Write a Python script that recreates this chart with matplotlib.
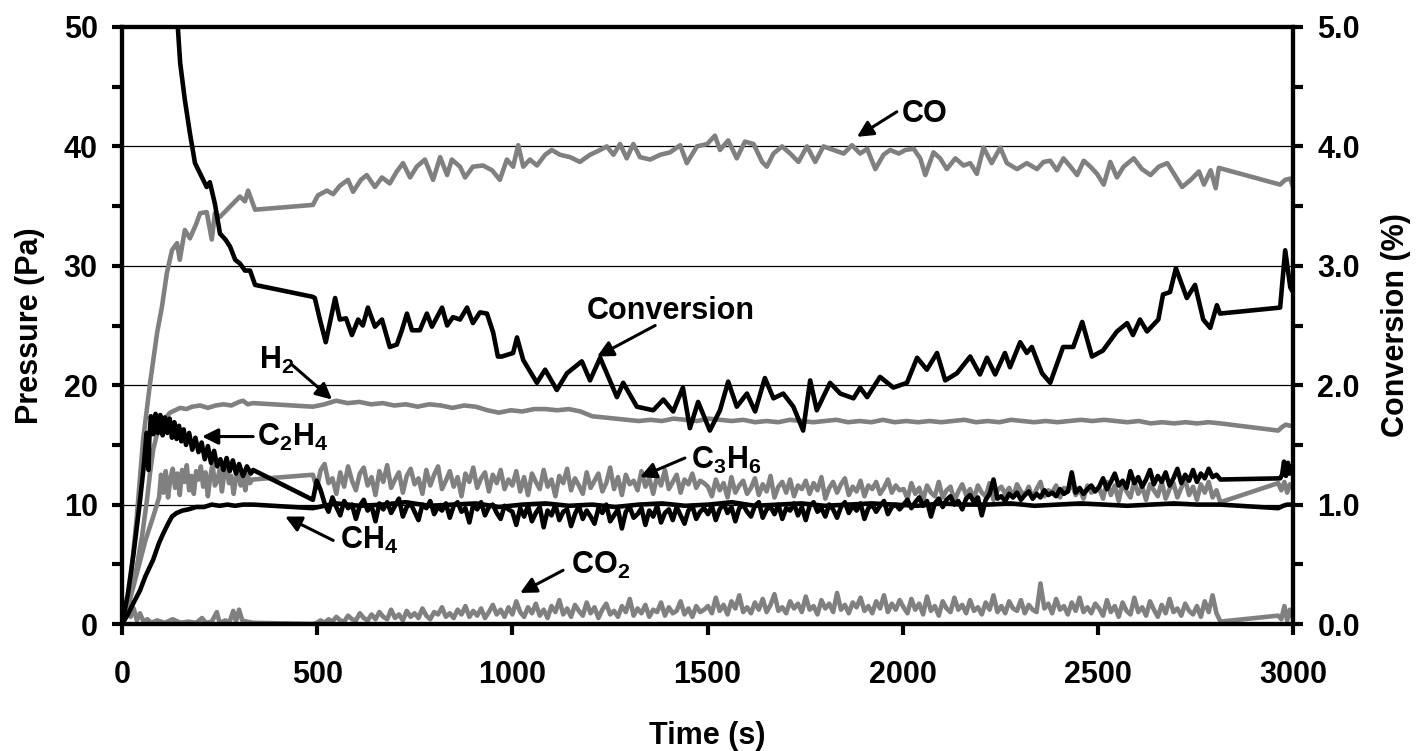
import numpy as np
import matplotlib
matplotlib.use('Agg')
import matplotlib.pyplot as plt
from matplotlib.ticker import MultipleLocator, FormatStrFormatter

plt.rcParams['font.family'] = ['Liberation Sans', 'DejaVu Sans']
plt.rcParams['font.weight'] = 'bold'
plt.rcParams['mathtext.fontset'] = 'custom'
plt.rcParams['mathtext.rm'] = 'Liberation Sans:bold'
plt.rcParams['mathtext.it'] = 'Liberation Sans:bold'
plt.rcParams['mathtext.bf'] = 'Liberation Sans:bold'

# ---------------- data ----------------
# middle measurement window shared by the sampled series (evenly spaced samples)
MID_START, MID_END = 489, 2814

# CO (Pa)
co_t = [0, 20, 38, 54, 72, 90, 102, 115, 128, 141, 148, 161, 174, 190, 200, 217, 230, 238, 251, 269, 284, 302, 315, 323, 341,
        489, 502, 525, 541, 558, 579, 592, 612, 627, 648, 666, 686, 704, 720, 738, 755, 776, 797, 815, 833, 845, 866, 879, 899,
        925, 948, 968, 986, 1002, 1015, 1028, 1045, 1063, 1084, 1101, 1122, 1148, 1173, 1199, 1225, 1242, 1259, 1276, 1293,
        1310, 1327, 1353, 1379, 1404, 1430, 1447, 1473, 1499, 1519, 1532, 1553, 1575, 1596, 1618, 1640, 1652, 1669, 1691,
        1712, 1733, 1755, 1776, 1797, 1823, 1849, 1870, 1891, 1909, 1930, 1951, 1968, 1990, 2007, 2028, 2045, 2058, 2079,
        2096, 2113, 2135, 2156, 2173, 2190, 2207, 2228, 2250, 2267, 2293, 2318, 2344, 2361, 2378, 2395, 2412, 2430, 2447,
        2464, 2481, 2498, 2515, 2532, 2549, 2566, 2592, 2613, 2635, 2656, 2678, 2695, 2716, 2738, 2759, 2772, 2789, 2802,
        2810, 2967, 2980, 2993, 3000]
co_v = [0, 3.0, 9.0, 15.4, 20.2, 24.4, 26.5, 29.4, 31.3, 31.9, 30.5, 33.0, 32.3, 33.5, 34.4, 34.5, 32.2, 34.4, 34.1, 34.7, 35.2, 35.8, 35.4, 36.3, 34.7,
        35.1, 35.9, 36.3, 36.0, 36.7, 37.2, 36.2, 37.2, 37.6, 36.6, 37.4, 36.9, 37.9, 38.6, 37.4, 38.3, 38.9, 37.2, 39.1, 37.6, 38.9, 38.3, 37.4, 38.3,
        38.4, 38.0, 37.2, 38.9, 38.3, 40.1, 38.3, 38.9, 38.4, 39.3, 39.7, 39.3, 39.1, 38.7, 39.3, 39.7, 40.0, 39.3, 40.2, 39.0,
        40.2, 39.1, 38.9, 39.3, 39.5, 40.1, 38.6, 40.0, 40.2, 40.9, 39.7, 40.5, 39.0, 40.4, 40.2, 38.7, 38.3, 39.4, 40.0,
        39.4, 38.7, 40.0, 38.7, 40.0, 39.7, 39.4, 40.1, 39.4, 39.8, 38.1, 39.3, 39.7, 39.4, 39.7, 39.8, 39.0, 37.6, 39.5,
        39.0, 38.1, 39.0, 38.4, 38.6, 37.7, 39.9, 38.6, 39.9, 38.6, 38.1, 38.6, 38.1, 38.7, 38.8, 38.0, 39.0, 38.3, 37.6,
        38.8, 38.3, 37.7, 36.8, 38.7, 37.4, 38.3, 39.0, 38.1, 37.6, 38.3, 38.6, 37.7, 36.6, 37.2, 37.9, 36.8, 38.0, 36.5,
        38.2, 36.8, 37.2, 37.3, 36.6]

# H2 (Pa)
h2_start_t = [0, 20, 38, 52, 64, 72, 80, 88, 97, 110, 123, 136, 149, 165, 180, 200, 220, 240, 260, 280, 300, 310, 322, 336]
h2_start_v = [0, 2.2, 4.8, 7.5, 10.4, 12.7, 14.6, 15.7, 16.5, 17.2, 17.7, 17.9, 18.1, 18.0, 18.2, 18.3, 18.1, 18.3, 18.4, 18.3, 18.6, 18.7, 18.4, 18.5]
h2_mid_v = [18.2, 18.4, 18.7, 18.5, 18.6, 18.4, 18.5, 18.3, 18.4, 18.2, 18.4, 18.3, 18.1, 18.3, 18.2, 17.9, 17.7, 17.9, 17.8, 18.0,
            18.0, 17.9, 18.0, 17.8, 17.4, 17.3, 17.2, 17.1, 17.0, 17.1, 17.0, 17.2, 17.1, 17.0, 17.2, 17.1, 17.0, 17.1, 16.9, 17.0,
            16.9, 17.1, 17.0, 16.9, 17.0, 17.1, 16.9, 17.0, 16.9, 17.1, 16.9, 17.0, 16.9, 17.0, 16.9, 17.0, 17.1, 16.9, 17.0, 16.9,
            17.1, 17.0, 16.9, 17.0, 16.9, 17.0, 17.1, 17.0, 17.1, 17.0, 16.9, 17.0, 16.8, 16.9, 16.8, 16.9, 16.8, 16.9, 16.8]
h2_end_t = [2962, 2972, 2982, 2992, 3000]
h2_end_v = [16.2, 16.5, 16.7, 16.6, 16.7]

# CH4 (Pa)
ch4_start_t = [0, 15, 30, 46, 60, 80, 95, 106, 118, 128, 140, 155, 170, 190, 210, 230, 250, 270, 290, 310, 336]
ch4_start_v = [0, 0.8, 1.8, 2.8, 4.0, 5.4, 6.8, 7.6, 8.4, 9.0, 9.3, 9.5, 9.6, 9.8, 9.8, 10.0, 9.9, 10.0, 9.9, 10.0, 10.0]
ch4_mid_v = [9.7, 10.1, 9.9, 10.0, 10.2, 9.9, 10.0, 10.1, 9.8, 10.0, 10.1, 9.9, 10.0, 9.8, 10.0, 10.1, 9.9, 10.0, 10.2, 9.9,
             10.0, 10.1, 9.9, 10.0, 10.1, 10.0, 9.9, 10.1, 10.0, 10.0, 10.1, 9.9, 10.0, 10.1, 10.0, 9.9, 10.0, 10.1, 10.0, 10.0]
ch4_end_t = [2962, 2975, 2985, 3000]
ch4_end_v = [9.7, 9.9, 10.0, 10.0]

# C2H4 (Pa)
c2h4_start_t = [0, 15, 30, 45, 55, 63, 66, 68, 70, 74, 80, 86, 92, 98, 104, 110, 116, 122, 128, 134, 140, 146, 152, 158, 164,
                172, 180, 188, 196, 204, 212, 220, 228, 236, 244, 252, 260, 268, 276, 284, 292, 300, 310, 320, 330, 336]
c2h4_start_v = [0, 2.5, 6.0, 10.0, 13.0, 16.0, 15.4, 12.9, 15.5, 17.4, 15.9, 17.6, 16.0, 17.5, 15.8, 17.3, 16.0, 17.2, 15.6, 16.9,
                15.5, 16.6, 15.3, 16.3, 15.0, 16.0, 14.6, 15.6, 14.4, 15.2, 13.8, 14.9, 13.5, 14.5, 13.2, 13.8, 12.9, 13.9, 12.8,
                13.7, 12.6, 13.4, 12.4, 13.2, 12.6, 12.9]
c2h4_mid_v = [10.4, 12.0, 11.2, 10.1, 9.4, 10.6, 9.8, 9.1, 10.3, 9.7, 10.0, 8.8, 9.9, 10.4, 9.5, 9.9, 8.6, 10.1, 9.6, 10.2,
              9.3, 9.9, 10.5, 9.0, 9.8, 10.1, 9.4, 8.7, 10.0, 9.7, 10.3, 9.2, 9.8, 9.5, 10.1, 8.9, 9.9, 10.2, 9.4, 9.7,
              8.5, 10.0, 9.6, 10.2, 9.1, 9.8, 10.0, 9.3, 8.8, 9.9, 9.6,
              9.4, 8.3, 9.7, 9.0, 9.9, 8.6, 9.3, 9.8, 8.1, 9.5, 9.1, 10.0, 8.7, 9.4, 9.6, 8.2, 9.2, 9.9, 8.8, 9.5,
              9.0, 8.4, 9.7, 9.3, 10.0, 8.6, 9.1, 9.6, 8.0, 9.4, 9.8, 8.9, 9.2, 9.7, 8.3, 9.5, 9.0, 9.9, 8.5, 9.3,
              9.6, 8.7, 9.8, 9.1, 8.4, 9.5, 9.9, 8.8, 9.4, 9.7,
              9.2, 9.9, 8.7, 9.6, 10.1, 9.3, 9.8, 8.6, 9.7, 10.0, 9.4, 9.0, 9.9, 10.2, 8.9, 9.6, 9.8, 9.2, 10.0, 8.8,
              9.7, 9.5, 10.1, 9.1, 9.8, 8.7, 9.9, 10.2, 9.4, 9.7, 9.0, 10.0, 9.6, 8.9, 9.8, 10.2, 9.3, 9.9, 9.5, 10.1,
              8.8, 9.7, 10.0, 9.4, 9.9, 10.3, 9.2, 9.8, 10.0, 9.6,
              10.0, 10.4, 9.7, 10.2, 10.6, 9.9, 10.3, 9.0, 10.1, 10.5, 9.8, 10.4, 10.7, 10.0, 10.3, 9.6, 10.5, 10.8, 10.2, 10.6,
              9.1, 10.4, 10.9, 12.1, 10.5, 10.7, 10.3, 10.9, 10.6, 11.0, 10.4, 10.8, 11.1, 10.5, 10.9, 10.6, 11.2, 10.8, 11.0, 10.7,
              11.3, 10.9, 11.1, 12.7, 11.0, 11.4, 10.9, 11.3, 11.6, 11.1,
              11.5, 12.2, 11.3, 11.9, 12.6, 11.6, 12.0, 11.4, 12.8, 11.8, 12.3, 11.5, 12.1, 12.9, 11.7, 12.4, 11.9, 12.7, 11.6, 12.2,
              13.0, 11.8, 12.5, 12.0, 12.9, 11.9, 12.6, 12.2, 13.0, 12.3, 12.5, 12.1]
c2h4_end_t = [2967, 2972, 2977, 2982, 2987, 2992, 2997, 3000]
c2h4_end_v = [12.2, 12.5, 13.6, 12.4, 13.5, 12.6, 13.2, 12.8]

# C3H6 (Pa)
c3h6_start_t = [0, 20, 40, 60, 80, 95] + list(range(100, 340, 6))
c3h6_start_v = [0, 2.0, 4.5, 7.0, 9.0, 10.6,
                12.5, 11.0, 12.8, 10.6, 12.2, 13.0, 11.4, 12.6, 10.8, 12.9, 11.9, 13.3, 11.2, 12.4, 10.9, 12.8, 12.1, 13.2,
                11.5, 12.7, 10.7, 12.3, 13.4, 11.6, 12.0, 12.9, 11.1, 12.6, 13.1, 11.8, 12.4, 10.9, 12.2, 12.8, 11.6, 12.3,
                11.2, 12.5, 11.8, 12.1]
c3h6_mid_v = [12.5, 11.4, 12.9, 13.4, 11.8, 12.2, 10.9, 12.7, 11.5, 13.2, 12.0, 11.2, 12.6, 13.1, 11.6, 12.3, 10.8, 12.8, 11.9, 13.3,
              11.4, 12.1, 12.7, 11.0, 12.4, 13.0, 11.7, 12.2, 10.9, 12.9, 11.6, 12.5, 13.2, 11.3, 12.0, 12.8, 11.5, 12.3, 10.7, 12.6,
              11.9, 13.1, 11.4, 12.2, 12.7, 11.1, 12.5, 11.8, 12.9, 11.3, 12.1,
              11.6, 12.8, 11.1, 12.3, 10.8, 12.6, 11.9, 11.3, 12.9, 11.5, 12.1, 10.7, 12.4, 11.8, 13.0, 11.2, 12.2, 11.6, 10.9, 12.7,
              11.4, 12.0, 12.6, 11.1, 11.8, 13.1, 11.3, 12.3, 10.8, 12.5, 11.7, 12.0, 11.2, 12.8, 11.5, 12.2, 10.9, 12.4, 11.6, 12.9,
              11.3, 11.9, 12.5, 11.0, 12.1, 11.7, 12.6, 11.4, 12.0, 11.8,
              11.5, 10.7, 12.1, 11.2, 11.8, 10.6, 12.3, 11.0, 11.6, 12.0, 10.9, 11.4, 12.2, 10.8, 11.7, 11.1, 12.4, 10.6, 11.5, 11.9,
              11.0, 12.1, 10.7, 11.6, 11.3, 12.0, 10.9, 11.8, 11.2, 12.3, 10.5, 11.4, 11.9, 11.0, 11.7, 12.2, 10.8, 11.5, 11.1, 12.0,
              10.7, 11.6, 11.3, 11.9, 10.9, 11.4, 12.1, 11.0, 11.6, 11.2,
              11.3, 10.5, 11.8, 10.9, 11.4, 10.4, 11.6, 11.0, 10.7, 11.9, 10.6, 11.2, 11.5, 10.3, 11.1, 11.7, 10.8, 11.3, 10.5, 11.6,
              11.0, 10.7, 11.8, 10.4, 11.2, 11.5, 10.9, 11.4, 10.6, 11.7, 11.1, 10.8, 11.5, 10.5, 11.3, 11.9, 10.7, 11.2, 11.0, 11.6,
              10.6, 11.4, 11.1, 11.8, 10.8, 11.3, 10.5, 11.6, 11.0, 11.2,
              11.4, 10.5, 11.9, 10.8, 11.6, 10.3, 11.8, 11.1, 10.6, 12.0, 10.9, 11.5, 10.4, 11.7, 11.2, 10.7, 11.9, 10.5, 11.3, 11.8,
              10.6, 11.4, 12.1, 10.8, 11.5, 10.4, 11.7, 11.0, 11.9, 10.6, 11.2, 10.2]
c3h6_end_t = [2962, 2970, 2978, 2985, 2992, 3000]
c3h6_end_v = [11.8, 11.2, 11.9, 11.0, 11.7, 11.4]

# CO2 (Pa)
co2_start_t = [0, 8, 15, 22, 30, 38, 46, 55, 65, 75, 90, 110, 130, 150, 170, 190, 205, 215, 230, 243, 250, 265, 275, 285, 292,
               300, 308, 320, 336]
co2_start_v = [0, 1.0, 1.5, 0.6, 1.3, 0.3, 0.9, 0.2, 0.4, 0.1, 0.3, 0.1, 0.4, 0.1, 0.2, 0.1, 0.5, 0.1, 0.2, 1.0, 0.1, 0.3, 0.1,
               1.1, 0.2, 1.2, 0.3, 0.2, 0.1]
co2_mid_v = [0.0, 0.1, 0.3, 0.1, 0.4, 0.2, 0.6, 0.3, 0.2, 0.7, 0.4, 0.3, 0.9, 0.5, 0.3, 0.8, 0.4, 1.0, 0.6, 0.4,
             1.2, 0.5, 0.8, 0.3, 1.1, 0.6, 0.9, 0.5, 1.3, 0.7, 0.4, 1.0, 0.8, 1.4, 0.6, 0.9, 0.5, 1.2, 0.8, 1.5,
             0.6, 1.1, 0.7, 1.3, 0.5, 1.0, 1.6, 0.8, 1.2, 0.6, 1.4,
             0.8, 1.9, 1.0, 0.6, 1.4, 0.9, 1.7, 0.7, 1.2, 0.5, 1.5, 1.0, 2.0, 0.8, 1.3, 0.6, 1.6, 1.1, 0.7, 1.8,
             0.9, 1.4, 0.5, 1.2, 1.7, 0.8, 1.1, 0.6, 1.5, 1.0, 2.1, 0.7, 1.3, 0.9, 1.6, 0.6, 1.2, 1.0, 1.8, 0.7,
             1.4, 0.9, 1.1, 1.9, 0.8, 1.3, 0.6, 1.5, 1.0, 1.2,
             1.5, 0.9, 2.2, 1.1, 1.6, 0.8, 1.9, 1.3, 2.4, 1.0, 1.4, 0.9, 1.8, 1.2, 2.1, 1.0, 1.6, 2.5, 1.1, 1.4,
             0.9, 1.9, 1.3, 1.7, 1.0, 2.3, 1.2, 1.5, 0.8, 2.0, 1.3, 1.7, 1.0, 2.6, 1.2, 1.6, 0.9, 1.8, 1.4, 2.2,
             1.1, 1.5, 0.9, 1.9, 1.3, 2.4, 1.0, 1.7, 1.2, 2.0,
             1.4, 0.9, 2.1, 1.2, 1.7, 0.8, 2.3, 1.1, 1.5, 0.7, 1.9, 1.3, 1.0, 2.2, 1.2, 1.6, 0.9, 2.0, 1.1, 1.4,
             0.8, 1.8, 1.2, 2.4, 1.0, 1.5, 0.9, 1.9, 1.3, 1.1, 2.0, 0.9, 1.6, 1.2, 1.0, 3.4, 1.3, 1.7, 0.9, 2.1,
             1.2, 1.5, 0.8, 1.8, 1.1, 2.2, 1.0, 1.4, 0.9, 1.7,
             1.3, 0.7, 2.0, 1.0, 1.5, 0.6, 1.8, 1.1, 0.8, 2.2, 1.0, 1.4, 0.7, 1.9, 1.2, 0.6, 1.6, 0.9, 2.1, 1.0,
             1.3, 0.7, 1.7, 1.1, 0.8, 1.5, 0.6, 1.9, 1.0, 2.4, 0.9, 0.2]
co2_end_t = [2962, 2970, 2978, 2985, 2992, 3000]
co2_end_v = [0.7, 0.4, 1.5, 0.3, 1.2, 0.5]

# Conversion (%)
conv_t = [130, 143, 149, 161, 174, 187, 205, 217, 225, 238, 251, 265, 277, 290, 302, 315, 328, 341,
          489, 494, 507, 522, 546, 558, 574, 589, 605, 617, 630, 648, 666, 686, 704, 717, 730, 743, 763, 781, 794, 807,
          820, 833, 848, 866, 884, 899, 917, 935, 951, 963, 973, 1002, 1012, 1028, 1063, 1084, 1114, 1140, 1178, 1199,
          1225, 1268, 1284, 1319, 1361, 1387, 1412, 1437, 1455, 1476, 1506, 1532, 1553, 1575, 1601, 1622, 1647, 1669,
          1694, 1720, 1745, 1763, 1780, 1814, 1840, 1874, 1891, 1909, 1942, 1976, 2011, 2037, 2062, 2088, 2109, 2139,
          2173, 2198, 2216, 2237, 2262, 2275, 2301, 2318, 2331, 2357, 2378, 2411, 2437, 2460, 2485, 2513, 2549, 2575,
          2590, 2608, 2626, 2655, 2667, 2685, 2700, 2728, 2749, 2770, 2788, 2805, 2813, 2967, 2980, 2993, 3000]
conv_v = [5.6, 5.0, 4.70, 4.39, 4.11, 3.86, 3.74, 3.66, 3.70, 3.52, 3.27, 3.22, 3.16, 3.05, 3.02, 2.96, 2.96, 2.84,
          2.74, 2.73, 2.55, 2.36, 2.73, 2.55, 2.56, 2.42, 2.55, 2.50, 2.65, 2.49, 2.55, 2.32, 2.34, 2.46, 2.60, 2.46, 2.46, 2.60, 2.49, 2.57,
          2.65, 2.50, 2.57, 2.55, 2.65, 2.52, 2.61, 2.60, 2.44, 2.24, 2.24, 2.27, 2.40, 2.21, 2.02, 2.13, 1.96, 2.10, 2.20, 2.04,
          2.23, 1.90, 2.02, 1.82, 1.79, 1.88, 1.78, 1.98, 1.64, 1.86, 1.62, 1.79, 2.03, 1.82, 1.93, 1.78, 2.06, 1.89,
          1.93, 1.82, 1.62, 2.04, 1.79, 2.02, 1.93, 1.89, 1.98, 1.90, 2.07, 1.98, 2.02, 2.23, 2.13, 2.27, 2.04, 2.10,
          2.24, 2.09, 2.23, 2.09, 2.27, 2.15, 2.36, 2.27, 2.32, 2.10, 2.02, 2.32, 2.32, 2.53, 2.24, 2.29, 2.45, 2.52,
          2.42, 2.55, 2.45, 2.55, 2.76, 2.78, 2.98, 2.73, 2.84, 2.55, 2.48, 2.67, 2.60, 2.65, 3.13, 2.82, 2.78]

# annotations: label, text centre (t, Pa), arrow tail (t, Pa), arrow head (t, Pa)
labels = [
    ('CO',               (2057, 42.7), (1985, 42.9), (1883, 40.8)),
    ('Conversion',       (1406, 26.2), (1366, 25.0), (1217, 22.4)),
    ('H$_{2}$',          (397, 22.1),  (436, 21.7),  (538, 18.8)),
    ('C$_{2}$H$_{4}$',   (438, 15.6),  (336, 15.7),  (205, 15.7)),
    ('CH$_{4}$',         (633, 7.0),   (541, 7.0),   (418, 9.0)),
    ('C$_{3}$H$_{6}$',   (1547, 13.7), (1442, 13.9), (1327, 12.3)),
    ('CO$_{2}$',         (1225, 4.9),  (1130, 4.5),  (1020, 2.6)),
]


def series(start_t, start_v, mid_v, end_t, end_v):
    t = np.concatenate([start_t, np.linspace(MID_START, MID_END, len(mid_v)), end_t])
    v = np.concatenate([start_v, mid_v, end_v])
    return t, v


# ---------------- figure ----------------
W, H = 1417, 751
fig = plt.figure(figsize=(W / 100, H / 100), dpi=100)
ax = fig.add_axes([122 / W, 1 - 624 / H, (1293 - 122) / W, (624 - 27) / H])
ax2 = ax.twinx()

GRAY = '#808080'
LW = 3.3

t, v = series(co2_start_t, co2_start_v, co2_mid_v, co2_end_t, co2_end_v)
ax.plot(t, v, color=GRAY, lw=LW, zorder=2)
t, v = series(c3h6_start_t, c3h6_start_v, c3h6_mid_v, c3h6_end_t, c3h6_end_v)
ax.plot(t, v, color=GRAY, lw=LW, zorder=2)
t, v = series(h2_start_t, h2_start_v, h2_mid_v, h2_end_t, h2_end_v)
ax.plot(t, v, color=GRAY, lw=LW, zorder=2)
ax.plot(co_t, co_v, color=GRAY, lw=LW, zorder=2)
t, v = series(ch4_start_t, ch4_start_v, ch4_mid_v, ch4_end_t, ch4_end_v)
ax.plot(t, v, color='black', lw=LW, zorder=3)
t, v = series(c2h4_start_t, c2h4_start_v, c2h4_mid_v, c2h4_end_t, c2h4_end_v)
ax.plot(t, v, color='black', lw=LW, zorder=3)

ax2.plot(conv_t, conv_v, color='black', lw=LW)

ax.set_xlim(0, 3000)
ax.set_ylim(0, 50)
ax2.set_ylim(0, 5)

ax.xaxis.set_major_locator(MultipleLocator(500))
ax.yaxis.set_major_locator(MultipleLocator(10))
ax.yaxis.set_minor_locator(MultipleLocator(5))
ax2.yaxis.set_major_locator(MultipleLocator(1.0))
ax2.yaxis.set_minor_locator(MultipleLocator(0.5))
ax2.yaxis.set_major_formatter(FormatStrFormatter('%.1f'))

ax.yaxis.grid(True, which='major', color='black', lw=0.9)
ax.set_axisbelow(True)

FS = 22
for a in (ax, ax2):
    for s in a.spines.values():
        s.set_linewidth(3)
ax.tick_params(axis='both', which='both', direction='out', width=3, labelsize=FS)
ax.tick_params(axis='y', which='major', length=7.5, pad=10)
ax.tick_params(axis='y', which='minor', length=7.5)
ax.tick_params(axis='x', which='major', length=8, pad=18)
ax2.tick_params(axis='y', which='both', direction='out', width=3, length=7.5, labelsize=FS, pad=10)

ax.set_xlabel('Time (s)', fontsize=FS, fontweight='bold')
ax.set_ylabel('Pressure (Pa)', fontsize=FS, fontweight='bold')
ax2.set_ylabel('Conversion (%)', fontsize=FS, fontweight='bold')
ax.xaxis.label.set_va('center')
ax.xaxis.set_label_coords(0.5, (624 - 736) / 597)
ax.yaxis.label.set(va='center', ha='center')
ax.yaxis.set_label_coords((30 - 122) / 1171, 0.5)
ax2.yaxis.label.set(va='center', ha='center', rotation=90)
ax2.yaxis.set_label_coords((1396 - 122) / 1171, 0.5)

for text, tpos, tail, head in labels:
    ax.annotate('', xy=head, xytext=tail,
                arrowprops=dict(arrowstyle='-|>', color='black', lw=2.2,
                                mutation_scale=24, shrinkA=0, shrinkB=0), zorder=6)
    ax.text(tpos[0], tpos[1], text, fontsize=FS, fontweight='bold',
            ha='center', va='center', zorder=6)

fig.savefig('out.png', dpi=100)
